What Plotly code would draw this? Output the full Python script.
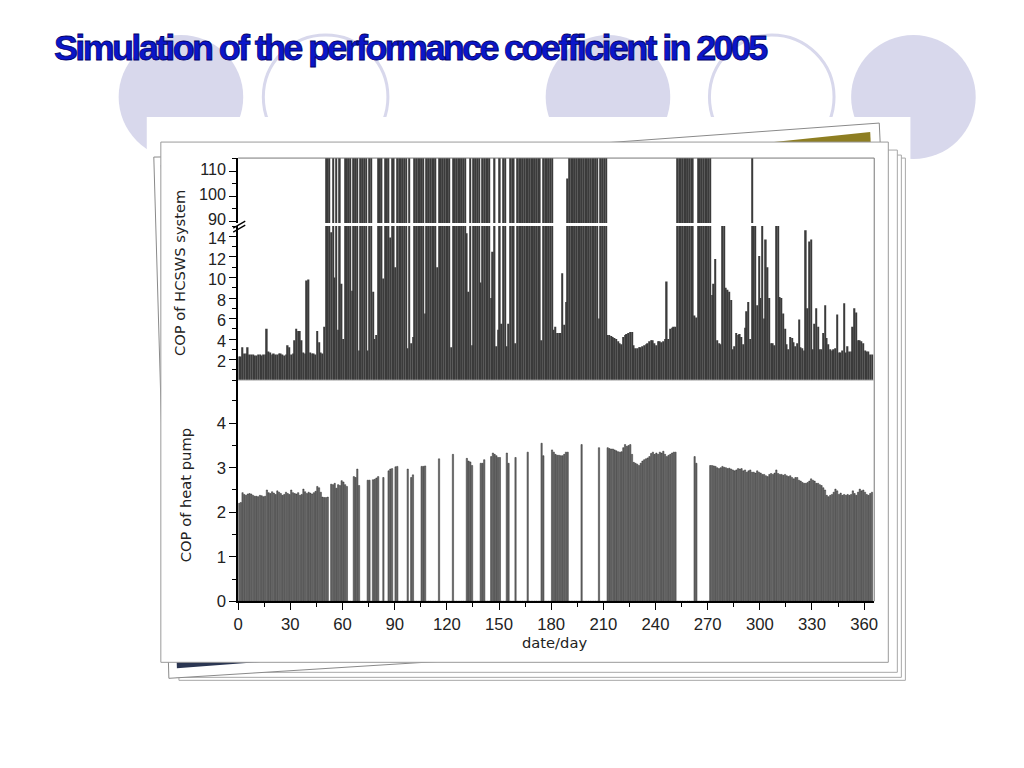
import plotly.graph_objects as go

# ---------------- data ----------------
T = 150.0  # days whose system COP runs off the top of the chart (> 115)

days = list(range(1, 366))

x_ticks = [0, 30, 60, 90, 120, 150, 180, 210, 240, 270, 300, 330, 360]
sys_low_ticks = [2, 4, 6, 8, 10, 12, 14]
sys_high_ticks = [90, 100, 110]
hp_ticks = [0, 1, 2, 3, 4]

cop_system = [
    2.3, 2.3, 3.2, 2.6, 2.6, 3.2, 2.5, 2.5, 2.5, 2.4,
    2.4, 2.5, 2.5, 2.4, 2.5, 2.5, 5.0, 2.8, 2.7, 2.5,
    2.6, 2.5, 2.5, 2.6, 2.6, 2.5, 2.4, 2.5, 3.4, 3.2,
    2.5, 2.6, 3.9, 5.0, 4.8, 4.8, 3.9, 2.7, 2.6, 9.7,
    9.8, 2.7, 2.6, 2.6, 2.5, 4.8, 3.7, 2.7, 2.6, 5.2,
    T, T, T, 14.4, T, 10.0, T, 4.9, T, 9.4,
    4.0, T, T, T, T, 8.7, T, T, T, 2.9,
    T, T, T, T, 2.9, T, T, 8.6, 4.0, 4.4,
    T, T, T, 9.9, T, T, T, 13.9, T, T,
    11.0, T, T, T, T, T, T, 3.1, T, 3.6,
    4.2, T, T, T, T, T, T, 6.5, T, T,
    T, T, T, T, 11.0, T, T, T, T, T,
    T, T, 3.2, T, T, T, T, T, T, T,
    T, 14.3, 8.6, T, 3.4, T, T, T, T, 9.5,
    T, T, T, T, T, 8.0, 12.5, T, 3.3, 4.9,
    T, 5.5, T, T, 3.3, 5.5, T, T, T, 3.6,
    T, T, T, T, T, T, T, T, T, T,
    T, T, T, T, 3.9, T, T, T, T, T,
    T, 4.9, 5.2, 4.6, 4.6, 4.6, 10.4, 5.4, 7.6, 107.0,
    T, T, T, T, T, T, T, T, T, T,
    T, T, T, T, T, T, T, 6.0, T, T,
    T, T, 4.4, 4.4, 4.3, 4.2, 4.1, 4.0, 3.8, 3.6,
    3.5, 4.2, 4.4, 4.5, 4.6, 4.7, 4.7, 3.4, 3.1, 3.1,
    3.2, 3.2, 3.3, 3.4, 3.5, 3.6, 3.8, 3.9, 3.9, 3.6,
    3.4, 3.8, 3.8, 3.7, 3.8, 4.0, 9.6, 4.0, 5.0, 5.1,
    5.2, 5.2, T, T, T, T, T, T, T, T,
    T, T, 6.3, 6.1, T, T, T, T, T, T,
    T, T, 8.3, 9.4, 11.8, 3.9, 3.6, 3.5, 30.0, 30.0,
    9.0, 8.8, 8.6, 7.8, 3.0, 3.3, 4.6, 4.4, 4.5, 4.2,
    3.5, 5.1, 6.7, 7.6, 4.0, T, 30.0, 30.0, 7.3, 12.1,
    8.0, 30.0, 6.0, 13.7, 11.0, 8.0, 3.6, 3.6, 3.4, 30.0,
    30.0, 8.1, 8.0, 6.5, 5.0, 3.5, 3.0, 4.2, 4.1, 3.7,
    3.3, 3.6, 5.9, 3.2, 3.1, 2.9, 14.6, 7.0, 13.5, 13.7,
    3.0, 5.5, 7.0, 5.2, 3.0, 3.0, 4.6, 7.3, 4.1, 3.5,
    3.0, 2.9, 3.0, 3.1, 6.4, 2.7, 2.7, 2.9, 7.5, 2.7,
    3.3, 2.8, 2.8, 5.2, 7.0, 6.6, 3.9, 3.9, 3.8, 3.6,
    2.9, 2.8, 2.8, 2.5, 2.5,
]

cop_heat_pump = [
    2.20, 2.22, 2.44, 2.40, 2.38, 2.41, 2.42, 2.41, 2.38, 2.36,
    2.36, 2.35, 2.38, 2.37, 2.35, 2.36, 2.50, 2.44, 2.42, 2.46,
    2.43, 2.40, 2.48, 2.45, 2.42, 2.38, 2.40, 2.45, 2.42, 2.40,
    2.50, 2.44, 2.42, 2.41, 2.44, 2.38, 2.40, 2.52, 2.46, 2.42,
    2.45, 2.43, 2.41, 2.44, 2.47, 2.58, 2.55, 2.45, 2.34, 2.33,
    2.33, 2.34, 0, 2.63, 2.62, 2.65, 2.54, 2.62, 2.60, 2.71,
    2.68, 2.62, 2.58, 0, 0, 0, 2.80, 2.78, 2.97, 2.60,
    0, 0, 0, 0, 2.72, 2.72, 0, 2.73, 2.74, 2.77,
    2.80, 0, 0, 2.78, 0, 0, 2.93, 2.97, 2.98, 0,
    3.02, 3.03, 0, 0, 0, 0, 0, 2.97, 0, 2.78,
    2.84, 0, 0, 0, 0, 3.03, 3.03, 3.04, 0, 0,
    0, 0, 0, 0, 0, 3.20, 0, 0, 0, 0,
    0, 0, 0, 3.30, 0, 0, 0, 0, 0, 0,
    0, 3.21, 3.15, 3.13, 3.05, 0, 0, 0, 0, 3.10,
    3.10, 3.18, 0, 0, 0, 3.25, 3.33, 3.30, 3.27, 3.23,
    3.23, 0, 0, 0, 3.33, 3.10, 0, 0, 0, 3.23,
    0, 0, 0, 0, 0, 0, 3.35, 0, 0, 0,
    0, 0, 0, 0, 3.55, 3.27, 0, 0, 0, 0,
    3.40, 3.35, 3.30, 3.28, 3.28, 3.27, 3.27, 3.30, 3.35, 3.35,
    0, 0, 0, 0, 0, 0, 0, 3.52, 0, 0,
    0, 0, 0, 0, 0, 0, 0, 3.45, 0, 0,
    0, 0, 3.45, 3.43, 3.42, 3.42, 3.40, 3.38, 3.36, 3.35,
    3.36, 3.45, 3.52, 3.48, 3.50, 3.52, 3.30, 3.12, 3.10, 3.08,
    3.05, 3.10, 3.15, 3.18, 3.20, 3.22, 3.25, 3.32, 3.35, 3.30,
    3.33, 3.30, 3.35, 3.33, 3.37, 3.30, 3.25, 3.28, 3.30, 3.33,
    3.35, 3.35, 0, 0, 0, 0, 0, 0, 0, 0,
    0, 0, 3.25, 3.10, 0, 0, 0, 0, 0, 0,
    0, 3.05, 3.05, 3.04, 3.03, 3.00, 2.98, 3.00, 3.03, 3.01,
    3.00, 2.98, 2.99, 2.97, 2.95, 2.93, 2.95, 2.98, 2.97, 2.98,
    2.93, 2.95, 2.90, 2.93, 2.95, 2.90, 2.90, 2.88, 2.93, 2.90,
    2.88, 2.85, 2.85, 2.82, 2.80, 2.85, 2.87, 2.85, 2.88, 2.95,
    2.87, 2.85, 2.85, 2.83, 2.85, 2.82, 2.80, 2.82, 2.78, 2.75,
    2.78, 2.78, 2.72, 2.70, 2.67, 2.65, 2.65, 2.67, 2.70, 2.75,
    2.72, 2.70, 2.65, 2.65, 2.62, 2.60, 2.55, 2.50, 2.38, 2.35,
    2.38, 2.40, 2.45, 2.52, 2.48, 2.40, 2.43, 2.38, 2.40, 2.38,
    2.40, 2.38, 2.40, 2.48, 2.42, 2.38, 2.45, 2.52, 2.48, 2.50,
    2.45, 2.40, 2.38, 2.42, 2.45,
]

assert len(cop_system) == 365 and len(cop_heat_pump) == 365

# ---------------- helpers (target pixel -> paper) ----------------
W, H = 1024, 768
S, OX = 0.9865, 6.9   # measured photo scaling of the page


def px(x):
    return (x - OX) / S / W


def py(y):
    return 1 - (y / S) / H


def fs(v):
    return v / S


def poly(points):
    return "M " + " L ".join(f"{px(a):.5f},{py(b):.5f}" for a, b in points) + " Z"


xc = [d - 0.5 for d in days]

TICKFONT = dict(family="Liberation Sans, Arial, sans-serif", size=fs(16.5), color="#222")
TICKFONT_TOP = dict(family="Liberation Sans, Arial, sans-serif", size=fs(16), color="#222")
LABFONT = dict(family="DejaVu Sans, Verdana, sans-serif", size=fs(14.5), color="#222")

fig = go.Figure()

# top panel: lower segment (0-15) and upper segment (89-115) show the same values
fig.add_trace(go.Bar(x=xc, y=cop_system, xaxis="x", yaxis="y2", width=0.84,
                     marker=dict(color="#3b3b3b", line=dict(width=0))))
fig.add_trace(go.Bar(x=xc, y=cop_system, xaxis="x", yaxis="y3", width=0.84,
                     marker=dict(color="#3b3b3b", line=dict(width=0))))
# bottom panel
fig.add_trace(go.Bar(x=xc, y=cop_heat_pump, xaxis="x", yaxis="y", width=0.74,
                     marker=dict(color="#747474", line=dict(color="#1a1a1a", width=0.45))))

XL, XR = 239, 872
TL, TLM = fs(7), fs(4)
common_y = dict(ticks="outside", ticklen=TL, tickwidth=1.3, tickcolor="black",
                showline=True, linecolor="black", linewidth=1.5,
                showgrid=False, zeroline=False, anchor="x",
                fixedrange=True)

fig.update_layout(
    width=W, height=H, autosize=False,
    margin=dict(l=0, r=0, t=0, b=0),
    paper_bgcolor="white", plot_bgcolor="rgba(0,0,0,0)",
    showlegend=False, barmode="overlay",
    xaxis=dict(domain=[px(XL), px(XR)], range=[0, 365.8], anchor="y",
               tickmode="array", tickvals=x_ticks,
               ticks="outside", ticklen=TL, tickwidth=1.3, tickcolor="black",
               minor=dict(dtick=15, tick0=0, ticks="outside", ticklen=TLM, tickcolor="black"),
               showline=True, linecolor="black", linewidth=1.5,
               showgrid=False, zeroline=False, tickfont=TICKFONT),
    yaxis=dict(domain=[py(601), py(380)], range=[0, 4.966],
               tickmode="array", tickvals=hp_ticks, tickfont=TICKFONT,
               minor=dict(dtick=0.5, tick0=0, ticks="outside", ticklen=TLM, tickcolor="black"),
               **common_y),
    yaxis2=dict(domain=[py(380), py(226)], range=[0, 15],
                tickmode="array", tickvals=sys_low_ticks, tickfont=TICKFONT_TOP,
                ticklabelshift=2,
                minor=dict(dtick=1, tick0=0, ticks="outside", ticklen=TLM, tickcolor="black"),
                **common_y),
    yaxis3=dict(domain=[py(223), py(158)], range=[89.2, 115.2],
                tickmode="array", tickvals=sys_high_ticks, tickfont=TICKFONT_TOP,
                ticklabelshift=-2,
                minor=dict(dtick=5, tick0=0, ticks="outside", ticklen=TLM, tickcolor="black"),
                **common_y),
)

LAV = "#d8d8ec"
shapes = []
# decorative circles
for cx, filled in [(182, True), (326, False), (607, True), (770, False), (911, True)]:
    r = 62
    base = dict(type="circle", xref="paper", yref="paper",
                x0=px(cx - r), x1=px(cx + r), y0=py(97 + r), y1=py(97 - r), layer="below")
    if filled:
        base.update(fillcolor=LAV, line=dict(width=0))
    else:
        base.update(line=dict(color=LAV, width=3))
    shapes.append(base)
# white backdrop covering the circles
shapes.append(dict(type="rect", xref="paper", yref="paper", x0=px(148), x1=px(908),
                   y0=0, y1=py(117), fillcolor="white", line=dict(width=0), layer="below"))
# tilted back photo (olive)
shapes.append(dict(type="path", xref="paper", yref="paper",
                   path=poly([(160, 175), (877, 123), (901, 643), (185, 662)]),
                   fillcolor="white", line=dict(color="#8a8a8a", width=1), layer="below"))
shapes.append(dict(type="path", xref="paper", yref="paper",
                   path=poly([(170, 205), (868, 132), (891, 635), (190, 650)]),
                   fillcolor="#8e7e22", line=dict(width=0), layer="below"))
# stacked straight cards
for x0, y0, x1, y1 in [(180, 158, 903, 680), (177, 155, 899, 677), (172, 150, 895, 672)]:
    shapes.append(dict(type="rect", xref="paper", yref="paper",
                       x0=px(x0), x1=px(x1), y0=py(y1), y1=py(y0),
                       fillcolor="white", line=dict(color="#a8a8a8", width=1), layer="below"))
# tilted card (navy)
shapes.append(dict(type="path", xref="paper", yref="paper",
                   path=poly([(155, 157), (870, 148), (885, 633), (170, 678)]),
                   fillcolor="white", line=dict(color="#8a8a8a", width=1), layer="below"))
shapes.append(dict(type="path", xref="paper", yref="paper",
                   path=poly([(162, 165), (862, 155), (877, 615), (178, 668)]),
                   fillcolor="#2b3652", line=dict(width=0), layer="below"))
# front card
shapes.append(dict(type="rect", xref="paper", yref="paper", x0=px(162), x1=px(886),
                   y0=py(662), y1=py(142), fillcolor="white",
                   line=dict(color="#9a9a9a", width=1), layer="below"))
# plot frame (top / right) and panel divider
shapes.append(dict(type="line", xref="paper", yref="paper", x0=px(XL), x1=px(XR),
                   y0=py(158), y1=py(158), line=dict(color="#777", width=1)))
shapes.append(dict(type="line", xref="paper", yref="paper", x0=px(XR), x1=px(XR),
                   y0=py(158), y1=py(601), line=dict(color="#777", width=1)))
shapes.append(dict(type="line", xref="paper", yref="paper", x0=px(XL), x1=px(XR),
                   y0=py(380), y1=py(380), line=dict(color="#bbb", width=1)))
# axis break marks
for dy in (0, 4):
    shapes.append(dict(type="line", xref="paper", yref="paper",
                       x0=px(234), x1=px(246), y0=py(228 + dy), y1=py(221 + dy),
                       line=dict(color="black", width=1.3)))
fig.update_layout(shapes=shapes)

title_style = "letter-spacing:-2.65px;stroke:#00006a;stroke-width:0.8px"
annotations = [
    dict(text=f'<b><span style="{title_style}">Simulation of the performance coefficient in 2005</span></b>',
         x=px(54), y=py(47), xanchor="left", yanchor="middle", showarrow=False,
         font=dict(family="Liberation Sans, Arial, sans-serif", size=fs(35.5), color="#0b16c9")),
    dict(text="COP of HCSWS system", x=px(180), y=py(273), textangle=-90,
         showarrow=False, xanchor="center", yanchor="middle", font=LABFONT),
    dict(text="COP of heat pump", x=px(186), y=py(495), textangle=-90,
         showarrow=False, xanchor="center", yanchor="middle", font=LABFONT),
    dict(text="date/day", x=px(554), y=py(642), showarrow=False,
         xanchor="center", yanchor="middle", font=LABFONT),
]
for a in annotations:
    a.update(xref="paper", yref="paper")
fig.update_layout(annotations=annotations)

fig.write_html("out.html", config={"displayModeBar": False},
               post_script="document.body.style.margin='0';document.body.style.overflow='hidden';")
